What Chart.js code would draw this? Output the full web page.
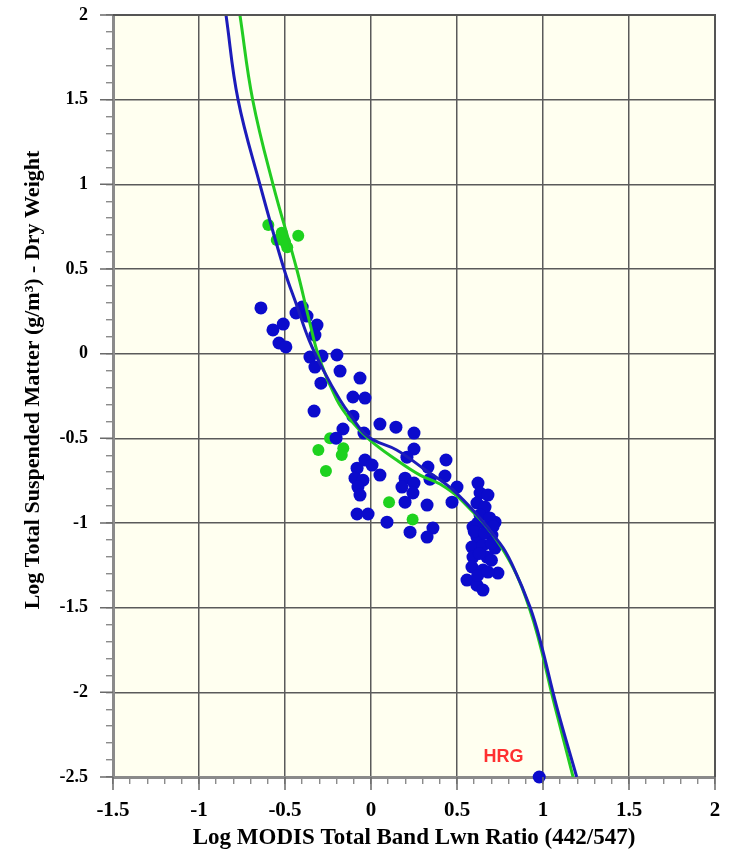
<!DOCTYPE html>
<html>
<head>
<meta charset="utf-8">
<script src="https://cdn.jsdelivr.net/npm/chart.js@4.4.0/dist/chart.umd.min.js"></script>
<style>
  html, body { margin: 0; padding: 0; background: #fff; }
  canvas { display: block; }
</style>
</head>
<body>
<canvas id="myChart" width="729" height="855"></canvas>
<script>
// log(Lwn 442/547) vs log(TSM), [x, y]
const blueSamples = [
    [-0.64, 0.27], [-0.51, 0.175], [-0.57, 0.14], [-0.535, 0.063], [-0.495, 0.04],
    [-0.436, 0.24], [-0.40, 0.275], [-0.372, 0.222], [-0.314, 0.169], [-0.326, 0.11],
    [-0.355, -0.02], [-0.285, -0.014], [-0.198, -0.008], [-0.326, -0.079], [-0.18, -0.103],
    [-0.064, -0.144], [-0.291, -0.174], [-0.105, -0.256], [-0.035, -0.262], [-0.331, -0.339],
    [-0.105, -0.369], [-0.163, -0.445], [-0.203, -0.499], [-0.041, -0.469], [0.052, -0.416],
    [0.145, -0.434], [0.25, -0.469], [0.25, -0.563], [0.209, -0.611], [0.436, -0.628],
    [0.331, -0.67], [0.43, -0.723], [0.343, -0.741], [0.5, -0.788], [-0.081, -0.676],
    [-0.035, -0.628], [0.006, -0.658], [-0.093, -0.735], [0.052, -0.717], [-0.047, -0.747],
    [-0.076, -0.788], [-0.064, -0.835], [0.198, -0.735], [0.25, -0.764], [0.18, -0.788],
    [0.244, -0.823], [0.198, -0.877], [0.326, -0.894], [0.471, -0.877], [-0.081, -0.947],
    [-0.017, -0.947], [0.093, -0.995], [0.227, -1.054], [0.36, -1.03], [0.326, -1.083],
    // 0.55 - 0.75 column
    [0.622, -0.764], [0.634, -0.823], [0.68, -0.835], [0.616, -0.882], [0.663, -0.906],
    [0.634, -0.953], [0.721, -0.995], [0.593, -1.024], [0.674, -1.024], [0.616, -1.083],
    [0.703, -1.071], [0.587, -1.142], [0.651, -1.131], [0.721, -1.148], [0.593, -1.201],
    [0.674, -1.201], [0.587, -1.26], [0.651, -1.278], [0.738, -1.296], [0.558, -1.337],
    [0.616, -1.367], [0.651, -1.396], [0.69, -0.97], [0.62, -1.0], [0.70, -1.12],
    [0.63, -1.18], [0.70, -1.22], [0.62, -1.31], [0.60, -1.05], [0.66, -1.06],
    [0.68, -1.29], [0.71, -1.02],
    // HRG
    [0.978, -2.5]
];

const greenSamples = [
    [-0.597, 0.76], [-0.519, 0.714], [-0.548, 0.671], [-0.487, 0.628], [-0.423, 0.696],
    [-0.50, 0.66],
    [-0.306, -0.569], [-0.238, -0.50], [-0.161, -0.559], [-0.170, -0.599], [-0.262, -0.693],
    [0.105, -0.878], [0.242, -0.979]
];

// fitted curves
const blueFit = [
    [-0.843, 2.0], [-0.773, 1.5], [-0.646, 1.0], [-0.506, 0.5], [-0.43, 0.28],
    [-0.36, 0.08], [-0.277, -0.097], [-0.18, -0.274], [-0.122, -0.36], [-0.016, -0.491],
    [0.149, -0.569], [0.304, -0.678], [0.498, -0.825], [0.75, -1.12], [0.827, -1.259],
    [0.924, -1.495], [0.983, -1.692], [1.08, -2.086], [1.196, -2.5]
];

const greenFit = [
    [-0.762, 2.0], [-0.688, 1.5], [-0.57, 1.0], [-0.432, 0.5], [-0.36, 0.2],
    [-0.30, -0.03], [-0.2, -0.27], [-0.12, -0.39], [-0.006, -0.51], [0.149, -0.628],
    [0.285, -0.717], [0.401, -0.77], [0.52, -0.86], [0.75, -1.13], [0.92, -1.5],
    [1.07, -2.086], [1.175, -2.5]
];

const xRange = [-1.5, 2];
const yRange = [-2.5, 2];
const xTitle = 'Log MODIS Total Band Lwn Ratio (442/547)';
const yTitle = 'Log Total Suspended Matter (g/m\u00b3) - Dry Weight';
const siteLabel = {text: 'HRG', x: 0.77, y: -2.38};

const toXY = pts => pts.map(([x, y]) => ({x, y}));
const isMajor = v => Math.abs(v * 2 - Math.round(v * 2)) < 1e-6;
const serif = 'Liberation Serif, Times New Roman, serif';

const plotDecor = {
    id: 'plotDecor',
    beforeDraw(chart) {
        const {ctx, chartArea: {left, top, width, height}} = chart;
        ctx.save();
        ctx.fillStyle = '#fffff0';
        ctx.fillRect(left, top, width, height);
        ctx.restore();
    },
    afterDraw(chart) {
        const {ctx, chartArea: {left, top, right, bottom}, scales: {x, y}} = chart;
        ctx.save();

        // longer ticks at the labelled values
        ctx.strokeStyle = '#6a6a6a';
        ctx.lineWidth = 1.5;
        ctx.beginPath();
        x.ticks.forEach(t => {
            if (!isMajor(t.value)) return;
            const px = x.getPixelForValue(t.value);
            ctx.moveTo(px, bottom);
            ctx.lineTo(px, bottom + 13);
        });
        y.ticks.forEach(t => {
            if (!isMajor(t.value)) return;
            const py = y.getPixelForValue(t.value);
            ctx.moveTo(left, py);
            ctx.lineTo(left - 13, py);
        });
        ctx.stroke();

        // top and right edges
        ctx.strokeStyle = '#555';
        ctx.lineWidth = 2;
        ctx.beginPath();
        ctx.moveTo(left, top);
        ctx.lineTo(right, top);
        ctx.lineTo(right, bottom);
        ctx.stroke();

        // site label
        ctx.fillStyle = '#ff3030';
        ctx.font = 'bold 18px "Liberation Sans", Arial, sans-serif';
        ctx.textAlign = 'center';
        ctx.textBaseline = 'middle';
        ctx.fillText(siteLabel.text, x.getPixelForValue(siteLabel.x), y.getPixelForValue(siteLabel.y));

        // axis titles
        ctx.fillStyle = '#000';
        ctx.font = 'bold 23px ' + serif;
        ctx.fillText(xTitle, (left + right) / 2, 838);
        ctx.font = 'bold 22px ' + serif;
        ctx.translate(33, 380);
        ctx.rotate(-Math.PI / 2);
        ctx.fillText(yTitle, 0, 0);
        ctx.restore();
    }
};

const axis = (range, fontSize, fitSize, horizontal) => ({
    type: 'linear',
    min: range[0],
    max: range[1],
    ticks: {
        stepSize: 0.1,
        autoSkip: false,
        maxRotation: 0,
        color: '#000',
        padding: horizontal ? 14 : 18,
        font: {family: serif, size: fontSize, weight: 'bold'},
        callback: v => isMajor(v) ? String(Math.round(v * 2) / 2) : ''
    },
    grid: {
        color: c => (c.tick && isMajor(c.tick.value)) ? '#5a5a5a' : 'transparent',
        lineWidth: 1.5,
        tickColor: '#777',
        tickLength: 7,
        tickWidth: 1.2
    },
    border: {color: '#8a8a8a', width: 3},
    afterFit(scale) {
        // end labels may overhang the frame
        scale.paddingLeft = scale.paddingRight = 0;
        scale.paddingTop = scale.paddingBottom = 0;
        if (horizontal) scale.height = fitSize; else scale.width = fitSize;
    }
});

const ctx = document.getElementById('myChart').getContext('2d');

new Chart(ctx, {
    type: 'scatter',
    data: {
        datasets: [
            {
                label: 'blue fit',
                data: toXY(blueFit),
                showLine: true,
                borderColor: '#1c1cba',
                borderWidth: 3,
                pointRadius: 0,
                tension: 0.4
            },
            {
                label: 'green fit',
                data: toXY(greenFit),
                showLine: true,
                borderColor: '#22cc22',
                borderWidth: 3,
                pointRadius: 0,
                tension: 0.4
            },
            {
                label: 'blue',
                data: toXY(blueSamples),
                backgroundColor: '#0b0bcc',
                borderWidth: 0,
                pointRadius: 6.5,
                clip: false
            },
            {
                label: 'green',
                data: toXY(greenSamples),
                backgroundColor: '#1ed21e',
                borderWidth: 0,
                pointRadius: 6
            }
        ]
    },
    options: {
        responsive: false,
        animation: false,
        events: [],
        layout: {padding: {top: 15, right: 14, left: 0, bottom: 0}},
        plugins: {
            legend: {display: false},
            tooltip: {enabled: false}
        },
        scales: {
            x: axis(xRange, 21, 78, true),
            y: axis(yRange, 18, 113, false)
        }
    },
    plugins: [plotDecor]
});
</script>
</body>
</html>
